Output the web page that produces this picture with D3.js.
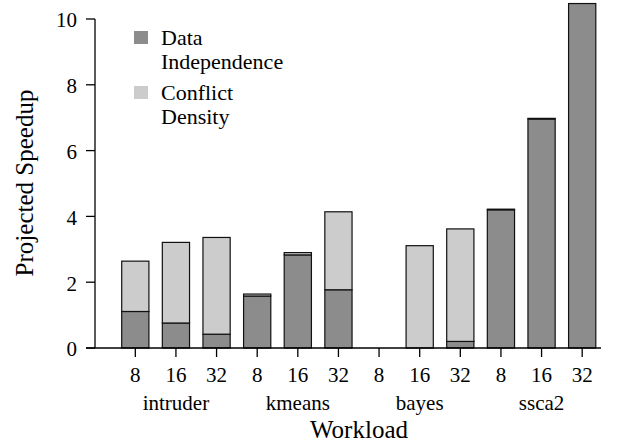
<!DOCTYPE html>
<html><head><meta charset="utf-8">
<script src="https://cdn.jsdelivr.net/npm/d3@7"></script>
<style>body{margin:0;background:#fff}svg{display:block}</style>
</head><body>
<svg id="c" width="618" height="442" font-family="'Liberation Serif', 'Times New Roman', Times, serif"></svg>
<script>
const workloads = ["intruder", "kmeans", "bayes", "ssca2"];
const threads = ["8", "16", "32"];
const dataIndependence = [1.11, 0.76, 0.42, 1.58, 2.83, 1.77, 0, 0, 0.20, 4.20, 6.96, 10.47];
const conflictDensity  = [1.53, 2.45, 2.94, 0.06, 0.07, 2.37, 0, 3.11, 3.42, 0.02, 0.02, 0];
const yTicks = [0, 2, 4, 6, 8, 10];
const colors = ["#8c8c8c", "#cccccc"];
const FONT = "'Liberation Serif', 'Times New Roman', Times, serif";

const svg = d3.select("#c");
const keys = [];
workloads.forEach(w => threads.forEach(t => keys.push(w + "|" + t)));
const rows = keys.map((k, i) => ({key: k, di: dataIndependence[i], cd: conflictDensity[i]}));

const x = d3.scaleBand().domain(keys).range([115, 602.5]).paddingInner(0.33).paddingOuter(0.165);
const y = d3.scaleLinear().domain([0, 10]).range([348, 19]);

const layers = d3.stack().keys(["di", "cd"])(rows);

svg.append("g").selectAll("g").data(layers).join("g")
  .attr("fill", (d, i) => colors[i])
  .selectAll("rect").data(d => d.filter(s => s[1] - s[0] > 0)).join("rect")
  .attr("x", d => x(d.data.key))
  .attr("width", x.bandwidth())
  .attr("y", d => y(d[1]))
  .attr("height", d => y(d[0]) - y(d[1]))
  .attr("stroke", "#111").attr("stroke-width", 1.2);

function txt(sel) { return sel.style("font-family", FONT).attr("fill", "#000"); }

// y axis
const ya = svg.append("g");
ya.append("line").attr("x1", 95).attr("x2", 95).attr("y1", y(10)).attr("y2", y(0)).attr("stroke", "#000").attr("stroke-width", 1.3);
ya.selectAll("line.t").data(yTicks).join("line").attr("class", "t")
  .attr("x1", 86).attr("x2", 95).attr("y1", d => y(d)).attr("y2", d => y(d)).attr("stroke", "#000").attr("stroke-width", 1.3);
txt(ya.selectAll("text").data(yTicks).join("text"))
  .attr("x", 77).attr("y", d => y(d)).attr("dy", "0.4em").attr("text-anchor", "end")
  .style("font-size", "21px").text(d => d);

// x axis
const xa = svg.append("g");
xa.append("line").attr("x1", 86).attr("x2", 601).attr("y1", y(0)).attr("y2", y(0)).attr("stroke", "#000").attr("stroke-width", 1.3);
xa.selectAll("line.t").data(keys).join("line").attr("class", "t")
  .attr("x1", d => x(d) + x.bandwidth() / 2).attr("x2", d => x(d) + x.bandwidth() / 2)
  .attr("y1", y(0)).attr("y2", y(0) + 9).attr("stroke", "#000").attr("stroke-width", 1.3);
txt(xa.selectAll("text.t").data(keys).join("text")).attr("class", "t")
  .attr("x", d => x(d) + x.bandwidth() / 2).attr("y", 382).attr("text-anchor", "middle")
  .style("font-size", "21px").text(d => d.split("|")[1]);
txt(xa.selectAll("text.g").data(workloads).join("text")).attr("class", "g")
  .attr("x", w => x(w + "|16") + x.bandwidth() / 2).attr("y", 410).attr("text-anchor", "middle")
  .style("font-size", "21px").text(w => w);

txt(svg.append("text")).attr("x", 359).attr("y", 438).attr("text-anchor", "middle").style("font-size", "25px").text("Workload");
txt(svg.append("text")).attr("transform", "translate(33,183) rotate(-90)").attr("text-anchor", "middle").style("font-size", "25px").text("Projected Speedup");

// legend
const leg = svg.append("g");
const legLines = [["Data", "Independence"], ["Conflict", "Density"]];
legLines.forEach((ls, i) => {
  const top = 31 + i * 55;
  leg.append("rect").attr("x", 134).attr("y", top).attr("width", 14).attr("height", 13).attr("fill", colors[i]);
  ls.forEach((s, j) => txt(leg.append("text")).attr("x", 161).attr("y", top + 14 + j * 24).style("font-size", "22px").text(s));
});
</script>
</body></html>
